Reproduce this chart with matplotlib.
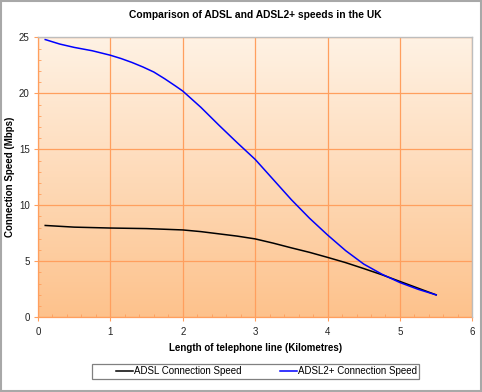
import numpy as np
import matplotlib
matplotlib.use("Agg")
import matplotlib.pyplot as plt
import matplotlib.ticker as mticker
from matplotlib.colors import LinearSegmentedColormap
from matplotlib.patches import Rectangle

plt.rcParams["font.family"] = ["Liberation Sans", "DejaVu Sans"]

# ── data ─────────────────────────────────────────────────────
adsl_km = [0.1, 0.5, 1.0, 1.5, 2.0, 2.25, 2.5, 2.75, 3.0, 3.25, 3.5,
           3.75, 4.0, 4.25, 4.5, 4.75, 5.0, 5.25, 5.5]
adsl_speed = [8.2, 8.05, 7.97, 7.92, 7.8, 7.65, 7.45, 7.25, 7.0, 6.62, 6.2,
              5.8, 5.35, 4.88, 4.35, 3.8, 3.2, 2.6, 2.0]

adsl2_km = [0.1, 0.3, 0.5, 0.75, 1.0, 1.15, 1.3, 1.45, 1.6, 1.75, 1.9, 2.0,
            2.25, 2.5, 2.75, 3.0, 3.25, 3.5, 3.75, 4.0, 4.25, 4.5, 4.75,
            5.0, 5.25, 5.5]
adsl2_speed = [24.8, 24.4, 24.1, 23.8, 23.4, 23.1, 22.75, 22.35, 21.9, 21.3,
               20.65, 20.2, 18.75, 17.15, 15.6, 14.1, 12.3, 10.5, 8.85, 7.35,
               5.95, 4.75, 3.85, 3.1, 2.5, 2.0]

ORANGE = "#FF9F5E"
GREY = "#BDBDBD"

fig = plt.figure(figsize=(4.82, 3.92), dpi=100, facecolor="white")
ax = fig.add_axes([0.0788, 0.1906, 0.9012, 0.7142])

# gradient background
cmap = LinearSegmentedColormap.from_list("bg", ["#FDC28C", "#FFF2E4"])
grad = np.linspace(0, 1, 256).reshape(-1, 1)
ax.imshow(grad, aspect="auto", cmap=cmap, origin="lower",
          extent=[0, 6, 0, 25], zorder=0)

ax.plot(adsl_km, adsl_speed, color="black", lw=1.1, zorder=3,
        label="ADSL Connection Speed")
ax.plot(adsl2_km, adsl2_speed, color="#0000FF", lw=1.1, zorder=3,
        label="ADSL2+ Connection Speed")

ax.set_xlim(0, 6)
ax.set_ylim(0, 25)
ax.xaxis.set_major_locator(mticker.MultipleLocator(1))
ax.xaxis.set_minor_locator(mticker.MultipleLocator(0.2))
ax.yaxis.set_major_locator(mticker.MultipleLocator(5))
ax.yaxis.set_minor_locator(mticker.MultipleLocator(1))
ax.grid(True, which="major", color=ORANGE, lw=0.9, zorder=1)
ax.set_axisbelow(True)

for s in ["left", "bottom"]:
    ax.spines[s].set_color(ORANGE)
    ax.spines[s].set_linewidth(0.9)
for s in ["top", "right"]:
    ax.spines[s].set_color(GREY)
    ax.spines[s].set_linewidth(1.0)
    ax.spines[s].set_zorder(4)

ax.tick_params(which="major", direction="out", length=3, color=ORANGE,
               labelsize=7, labelcolor="#222222", pad=4)
ax.tick_params(axis="y", which="major", pad=3)
ax.tick_params(which="minor", direction="in", length=2, color=ORANGE)

ax.set_title("Comparison of ADSL and ADSL2+ speeds in the UK",
             fontsize=7.4, fontweight="bold", pad=14)
ax.set_xlabel("Length of telephone line (Kilometres)", fontsize=7,
              fontweight="bold", labelpad=4)
ax.set_ylabel("Connection Speed (Mbps)", fontsize=7, fontweight="bold")
ax.yaxis.set_label_coords(-0.054, 0.5)

# legend: frameless entries inside a separately drawn box
leg = fig.legend(loc="center left", bbox_to_anchor=(116 / 482, 1 - 371.5 / 392),
                 ncol=2, fontsize=7, frameon=False, handlelength=1.75,
                 handletextpad=0.15, columnspacing=3.9, borderpad=0,
                 borderaxespad=0)
fig.add_artist(Rectangle((92 / 482, 1 - 379 / 392), 327 / 482, 15 / 392,
                         transform=fig.transFigure, fill=False,
                         edgecolor="#808080", lw=0.9))

fig.add_artist(Rectangle((0.002, 0.002), 0.996, 0.996, transform=fig.transFigure,
                         fill=False, edgecolor="#A8A8A8", lw=1.5))

fig.savefig("out.png", dpi=100, facecolor="white")
